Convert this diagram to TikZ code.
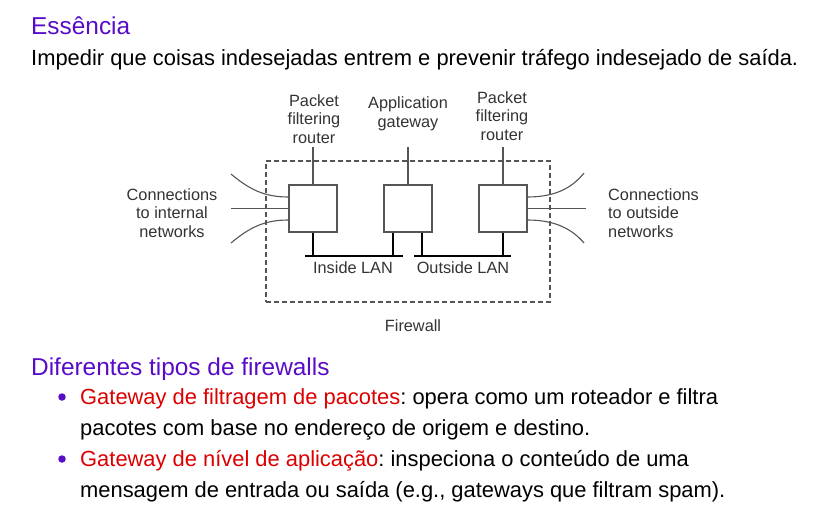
\documentclass[tikz,border=0pt]{standalone}
\usepackage{fontspec}
\setmainfont{Liberation Sans}
\frenchspacing
\definecolor{headc}{RGB}{88,12,200}
\definecolor{redc}{RGB}{220,0,0}
\definecolor{linec}{RGB}{85,85,85}
\begin{document}
\begin{tikzpicture}[x=1pt,y=-1pt,
  dev/.style={draw=linec,line width=1.1pt,fill=white,minimum width=48pt,minimum height=47pt,inner sep=0pt},
  thin/.style={draw=linec,line width=1.1pt},
  lan/.style={draw=black,line width=2.4pt},
  lbl/.style={font=\fontsize{16.3}{18.5}\selectfont,text=black!80,align=center,inner sep=0pt},
  body/.style={font=\fontsize{21.9}{24}\selectfont,anchor=base west,inner sep=0pt},
  head/.style={font=\fontsize{24.4}{28}\selectfont,text=headc,anchor=base west,inner sep=0pt},
  bul/.style={circle,fill=headc,minimum size=7.5pt,inner sep=0pt}]
\useasboundingbox (0,0) rectangle (827,511);
% texts
\node[head] (h1) at (31,35) {Essência};
\node[body] (t1) at (31,66) {Impedir que coisas indesejadas entrem e prevenir tráfego indesejado de saída.};
\node[head] (h2) at (31,375) {Diferentes tipos de firewalls};
\node[bul] (b1) at (62,397) {};
\node[bul] (b2) at (62,459) {};
\node[body] (l1) at (80,404) {\textcolor{redc}{Gateway de filtragem de pacotes}: opera como um roteador e filtra};
\node[body] (l2) at (80,435) {pacotes com base no endereço de origem e destino.};
\node[body] (l3) at (80,466) {\textcolor{redc}{Gateway de nível de aplicação}: inspeciona o conteúdo de uma};
\node[body] (l4) at (80,497) {mensagem de entrada ou saída (e.g., gateways que filtram spam).};
% firewall dashed box
\node[draw=linec,dashed,line width=1.1pt,dash pattern=on 5pt off 3pt,minimum width=284pt,minimum height=141pt,inner sep=0pt] (fw) at (408,231.5) {};
% devices
\node[dev] (r1) at (313,208.5) {};
\node[dev] (ag) at (408,208.5) {};
\node[dev] (r2) at (503,208.5) {};
% top labels
\node[lbl] (lr1) at (314,119) {Packet\\filtering\\router};
\node[lbl] (lag) at (408,114) {Application\\gateway};
\node[lbl] (lr2) at (502,116) {Packet\\filtering\\router};
\coordinate (tr1) at (313,147);
\coordinate (tag) at (408,147);
\coordinate (tr2) at (503,147);
\draw[thin] (tr1) -- (r1.north);
\draw[thin] (tag) -- (ag.north);
\draw[thin] (tr2) -- (r2.north);
% side labels
\node[lbl] (lin) at (172,213) {Connections\\to internal\\networks};
\node[lbl,align=left,anchor=west] (lout) at (608,213) {Connections\\to outside\\networks};
% left connections
\coordinate (la) at (231,174);
\coordinate (lb) at (231,208.5);
\coordinate (lc) at (231,243);
\draw[thin] (la) .. controls (250,190) and (265,197) .. ([yshift=11.5pt]r1.west);
\draw[thin] (lb) -- (r1.west);
\draw[thin] (lc) .. controls (250,227) and (265,220) .. ([yshift=-11.5pt]r1.west);
% right connections
\coordinate (ra) at (584,173);
\coordinate (rb) at (586,208.5);
\coordinate (rc) at (584,243);
\draw[thin] ([yshift=11.5pt]r2.east) .. controls (555,197) and (572,188) .. (ra);
\draw[thin] (r2.east) -- (rb);
\draw[thin] ([yshift=-11.5pt]r2.east) .. controls (555,220) and (572,229) .. (rc);
% LANs
\coordinate (in1) at (305,256);
\coordinate (in2) at (403,256);
\coordinate (out1) at (414,256);
\coordinate (out2) at (511,256);
\draw[lan] (in1) -- (in2);
\draw[lan] (out1) -- (out2);
\draw[lan] (r1.south) -- (r1.south |- in1);
\draw[lan] ([xshift=-15pt]ag.south) -- ([xshift=-15pt]ag.south |- in1);
\draw[lan] ([xshift=14pt]ag.south) -- ([xshift=14pt]ag.south |- out1);
\draw[lan] (r2.south) -- (r2.south |- out1);
\node[lbl] (inl) at (353,268) {Inside LAN};
\node[lbl] (outl) at (463,268) {Outside LAN};
\node[lbl] (fwl) at (413,326) {Firewall};
\end{tikzpicture}
\end{document}
